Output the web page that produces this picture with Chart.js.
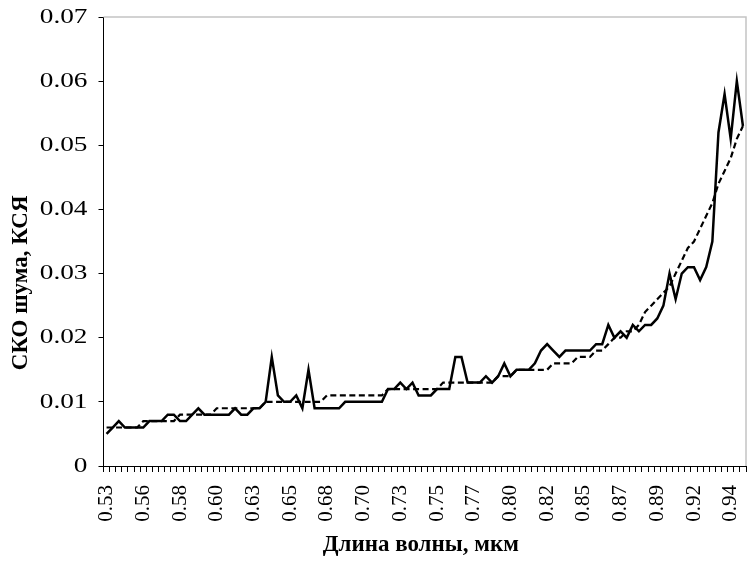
<!DOCTYPE html>
<html lang="ru">
<head>
<meta charset="utf-8">
<title>СКО шума, КСЯ</title>
<script src="https://cdn.jsdelivr.net/npm/chart.js@4/dist/chart.umd.min.js"></script>
<style>
  html, body { margin: 0; padding: 0; background: #fff; }
  canvas { display: block; }
</style>
</head>
<body>
<canvas id="chart" width="756" height="563"></canvas>
<script>
// Wavelength of each spectral channel, µm
const wavelengths = [
  '0.532','0.537','0.541','0.545','0.549','0.553','0.557','0.561','0.565','0.569',
  '0.573','0.577','0.581','0.585','0.589','0.593','0.597','0.601','0.604','0.609',
  '0.613','0.617','0.621','0.625','0.629','0.633','0.637','0.641','0.645','0.649',
  '0.653','0.657','0.661','0.665','0.669','0.673','0.677','0.681','0.685','0.689',
  '0.693','0.697','0.701','0.705','0.709','0.713','0.717','0.721','0.726','0.729',
  '0.733','0.737','0.741','0.745','0.749','0.753','0.757','0.761','0.766','0.770',
  '0.774','0.778','0.782','0.786','0.790','0.794','0.798','0.802','0.806','0.810',
  '0.814','0.818','0.822','0.826','0.830','0.834','0.838','0.842','0.846','0.850',
  '0.854','0.858','0.862','0.866','0.870','0.874','0.878','0.882','0.886','0.890',
  '0.894','0.898','0.902','0.906','0.910','0.914','0.918','0.922','0.926','0.930',
  '0.934','0.938','0.942','0.946','0.950'
];

// Measured noise RMS per channel
const noiseSko = [
  0.005, 0.006, 0.007, 0.006, 0.006, 0.006, 0.006, 0.007, 0.007, 0.007,
  0.008, 0.008, 0.007, 0.007, 0.008, 0.009, 0.008, 0.008, 0.008, 0.008,
  0.008, 0.009, 0.008, 0.008, 0.009, 0.009, 0.010, 0.017, 0.011, 0.010,
  0.010, 0.011, 0.009, 0.015, 0.009, 0.009, 0.009, 0.009, 0.009, 0.010,
  0.010, 0.010, 0.010, 0.010, 0.010, 0.010, 0.012, 0.012, 0.013, 0.012,
  0.013, 0.011, 0.011, 0.011, 0.012, 0.012, 0.012, 0.017, 0.017, 0.013,
  0.013, 0.013, 0.014, 0.013, 0.014, 0.016, 0.014, 0.015, 0.015, 0.015,
  0.016, 0.018, 0.019, 0.018, 0.017, 0.018, 0.018, 0.018, 0.018, 0.018,
  0.019, 0.019, 0.022, 0.020, 0.021, 0.020, 0.022, 0.021, 0.022, 0.022,
  0.023, 0.025, 0.030, 0.026, 0.030, 0.031, 0.031, 0.029, 0.031, 0.035,
  0.052, 0.058, 0.051, 0.060, 0.053
];

// Smoothed noise RMS (trend)
const noiseTrend = [
  0.006, 0.006, 0.006, 0.006, 0.006, 0.006, 0.007, 0.007, 0.007, 0.007,
  0.007, 0.007, 0.008, 0.008, 0.008, 0.008, 0.008, 0.008, 0.009, 0.009,
  0.009, 0.009, 0.009, 0.009, 0.009, 0.009, 0.010, 0.010, 0.010, 0.010,
  0.010, 0.010, 0.010, 0.010, 0.010, 0.010, 0.011, 0.011, 0.011, 0.011,
  0.011, 0.011, 0.011, 0.011, 0.011, 0.011, 0.012, 0.012, 0.012, 0.012,
  0.012, 0.012, 0.012, 0.012, 0.012, 0.013, 0.013, 0.013, 0.013, 0.013,
  0.013, 0.013, 0.013, 0.013, 0.014, 0.014, 0.014, 0.015, 0.015, 0.015,
  0.015, 0.015, 0.015, 0.016, 0.016, 0.016, 0.016, 0.017, 0.017, 0.017,
  0.018, 0.018, 0.019, 0.020, 0.020, 0.021, 0.021, 0.022, 0.024, 0.025,
  0.026, 0.027, 0.028, 0.030, 0.032, 0.034, 0.035, 0.037, 0.039, 0.041,
  0.044, 0.046, 0.048, 0.051, 0.053
];

const yTickValues = [0, 0.01, 0.02, 0.03, 0.04, 0.05, 0.06, 0.07];
const labelEvery = 6;
const xTitle = 'Длина волны, мкм';
const yTitle = 'СКО шума, КСЯ';

const serif = '"Liberation Serif", "Times New Roman", serif';

// Scales keep a fixed plot area: no automatic edge padding from labels
const fixedEdges = (s) => {
  s.paddingTop = 0; s.paddingBottom = 0; s.paddingLeft = 0; s.paddingRight = 0;
};

// Light frame on the top and right of the plot area
const plotFrame = {
  id: 'plotFrame',
  beforeDatasetsDraw(chart) {
    const { ctx, chartArea: a } = chart;
    ctx.save();
    ctx.strokeStyle = '#c4c4c4';
    ctx.lineWidth = 1.5;
    ctx.beginPath();
    ctx.moveTo(a.left, a.top);
    ctx.lineTo(a.right, a.top);
    ctx.lineTo(a.right, a.bottom);
    ctx.stroke();
    ctx.restore();
  }
};

// Value labels of the y axis, set in a wide serif face
const yLabels = {
  id: 'yLabels',
  afterDraw(chart) {
    const { ctx } = chart;
    const y = chart.scales.y;
    ctx.save();
    ctx.fillStyle = '#000';
    ctx.font = '22px ' + serif;
    ctx.textAlign = 'right';
    ctx.textBaseline = 'middle';
    yTickValues.forEach(v => {
      const py = y.getPixelForValue(v);
      ctx.save();
      ctx.translate(y.right - 16, py);
      ctx.scale(1.24, 1);
      ctx.fillText(v === 0 ? '0' : v.toFixed(2), 0, 0);
      ctx.restore();
    });
    ctx.restore();
  }
};

// Axis titles
const axisTitles = {
  id: 'axisTitles',
  afterDraw(chart) {
    const { ctx, chartArea: a } = chart;
    ctx.save();
    ctx.fillStyle = '#000';
    ctx.font = 'bold 23px ' + serif;
    ctx.textAlign = 'center';
    ctx.textBaseline = 'middle';
    ctx.fillText(xTitle, (a.left + a.right) / 2 - 4, chart.height - 18);
    ctx.translate(21, a.top + (a.bottom - a.top) * 0.592);
    ctx.rotate(-Math.PI / 2);
    ctx.fillText(yTitle, 0, 0);
    ctx.restore();
  }
};

new Chart(document.getElementById('chart'), {
  type: 'line',
  data: {
    labels: wavelengths,
    datasets: [
      {
        label: 'СКО шума',
        data: noiseSko,
        borderColor: '#000',
        borderWidth: 2.5,
        tension: 0,
        pointRadius: 0,
        fill: false,
        order: 1
      },
      {
        label: 'Тренд',
        data: noiseTrend,
        borderColor: '#000',
        borderWidth: 2.2,
        borderDash: [6, 3.5],
        tension: 0,
        pointRadius: 0,
        fill: false,
        order: 2
      }
    ]
  },
  options: {
    responsive: false,
    animation: false,
    devicePixelRatio: 1,
    layout: { padding: { top: 17, right: 10, left: 0, bottom: 0 } },
    plugins: {
      legend: { display: false },
      tooltip: { enabled: false },
      title: { display: false }
    },
    scales: {
      x: {
        type: 'category',
        offset: true,
        grid: {
          offset: true,
          drawOnChartArea: false,
          drawTicks: true,
          tickLength: 6,
          color: '#000',
          lineWidth: 1
        },
        border: { color: '#000', width: 1 },
        ticks: {
          autoSkip: false,
          minRotation: 90,
          maxRotation: 90,
          padding: 13,
          color: '#000',
          font: { family: serif, size: 21 },
          callback: (v, i) => (i % labelEvery === 0 ? Number(wavelengths[i]).toFixed(2) : '')
        },
        afterFit: (s) => { fixedEdges(s); s.height = 97; }
      },
      y: {
        min: 0,
        max: 0.07,
        afterBuildTicks: (s) => { s.ticks = yTickValues.map(v => ({ value: v })); },
        grid: {
          drawOnChartArea: false,
          drawTicks: true,
          tickLength: 5,
          color: '#000',
          lineWidth: 1
        },
        border: { color: '#000', width: 1 },
        ticks: { display: false },
        afterFit: (s) => { fixedEdges(s); s.width = 103.5; }
      }
    }
  },
  plugins: [plotFrame, yLabels, axisTitles]
});
</script>
</body>
</html>
